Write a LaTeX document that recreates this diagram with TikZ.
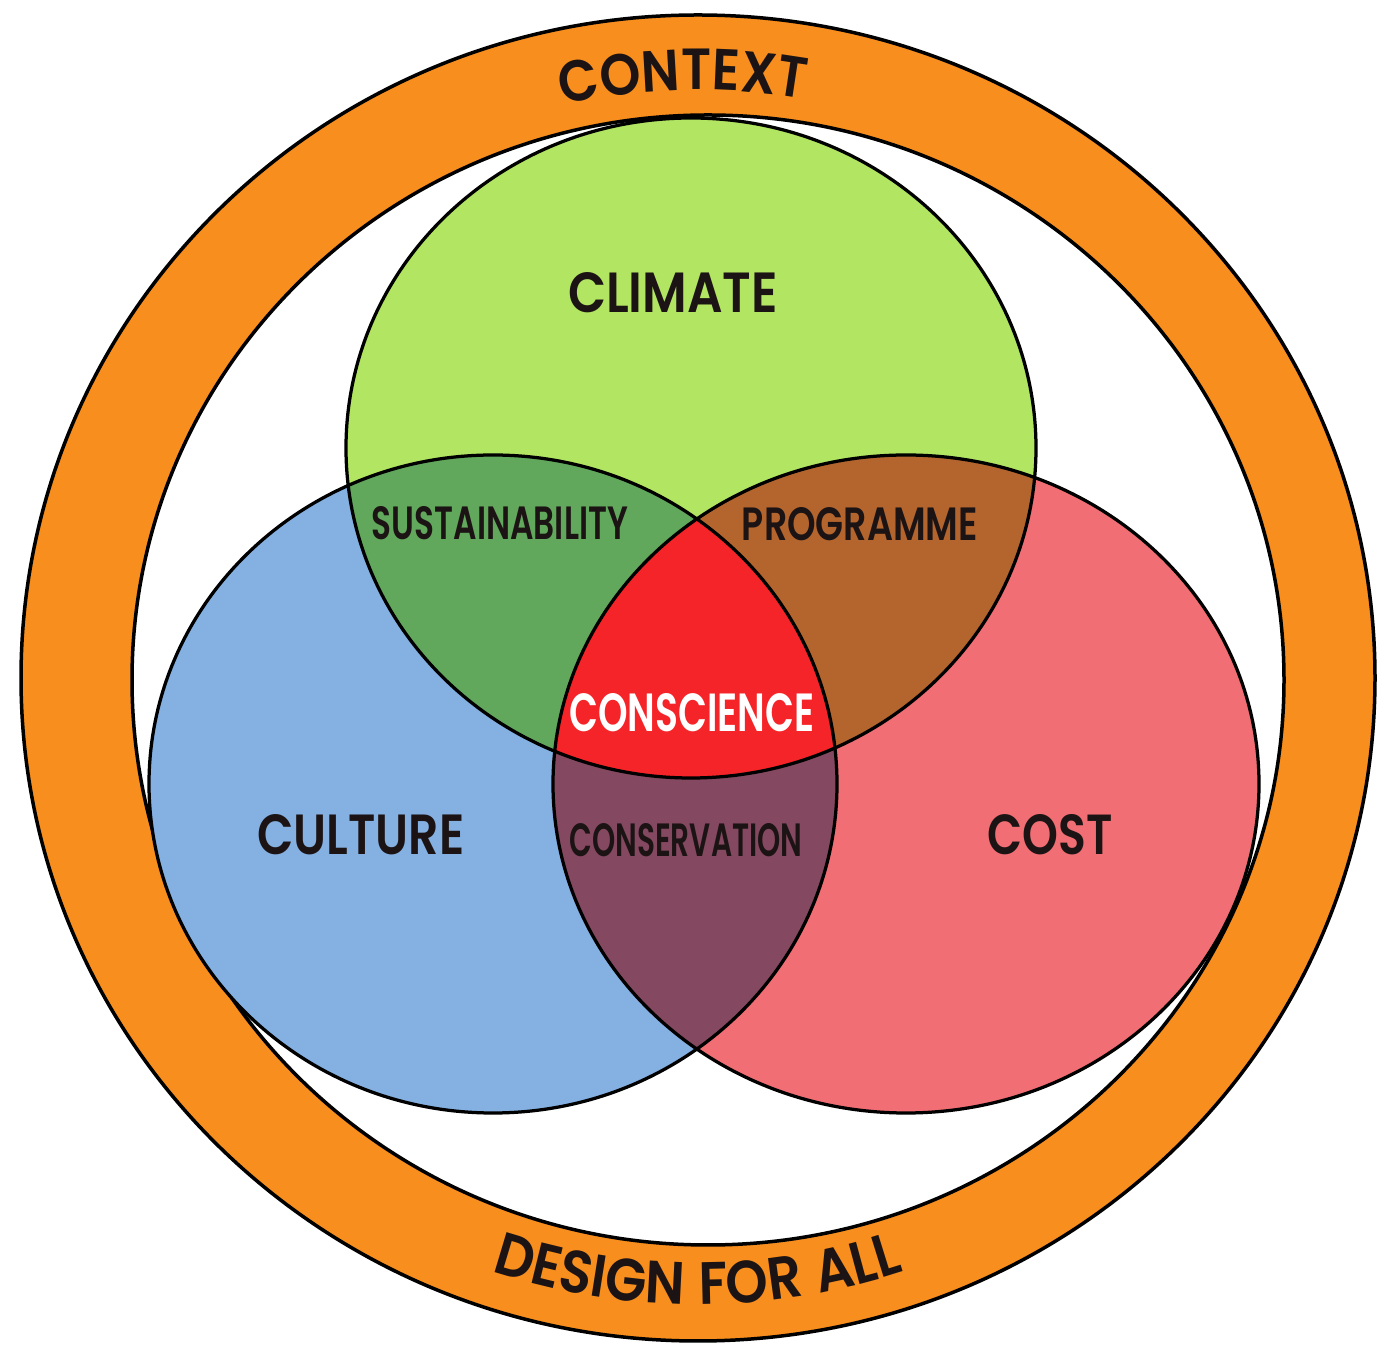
\documentclass[tikz,border=0pt]{standalone}
\usepackage{fontspec}
\setmainfont{Poppins}[BoldFont={* SemiBold}]
\newfontfamily\ringfont{Poppins}[BoldFont={* SemiBold}, FakeStretch=0.9, LetterSpace=4]
\usetikzlibrary{decorations.text}

\definecolor{ringorange}{RGB}{248,142,30}
\definecolor{climategreen}{RGB}{178,229,98}
\definecolor{cultureblue}{RGB}{132,176,226}
\definecolor{costpink}{RGB}{240,110,116}
\definecolor{sustgreen}{RGB}{98,168,92}
\definecolor{progbrown}{RGB}{180,101,46}
\definecolor{conscred}{RGB}{245,36,40}
\definecolor{conservplum}{RGB}{132,72,96}
\definecolor{inkdark}{RGB}{28,20,20}

% label stretched to the size it has in the picture
\newcommand{\fitlabel}[3]{\resizebox{#1}{#2}{\bfseries #3}}

\tikzset{
  outline/.style={draw=black, line width=0.65mm},
  ringline/.style={draw=black, line width=0.7mm},
  venntext/.style={text=inkdark, inner sep=0pt},
  climate path/.style={insert path={(691,897) ellipse [x radius=345, y radius=330]}},
  culture path/.style={insert path={(493,561) ellipse [x radius=344, y radius=329]}},
  cost path/.style={insert path={(906,561) ellipse [x radius=353, y radius=329]}},
}

\begin{document}
\begin{tikzpicture}[x=0.2mm, y=0.2mm]
	\useasboundingbox (0,0) rectangle (1381,1345);

	% context ring
	\fill[ringorange, even odd rule] (698,667) ellipse [x radius=677, y radius=663]
		(708,665) ellipse [x radius=576, y radius=565];
	\draw[ringline] (698,667) ellipse [x radius=677, y radius=663];
	\draw[ringline] (708,665) ellipse [x radius=576, y radius=565];

	% the three circles
	\fill[climategreen, climate path];
	\fill[cultureblue, culture path];
	\fill[costpink, cost path];

	% overlaps
	\begin{scope}
		\clip[climate path];
		\fill[sustgreen, culture path];
		\fill[progbrown, cost path];
	\end{scope}
	\begin{scope}
		\clip[culture path];
		\fill[conservplum, cost path];
	\end{scope}
	\begin{scope}
		\clip[climate path];
		\clip[culture path];
		\fill[conscred, cost path];
	\end{scope}

	\draw[outline, climate path];
	\draw[outline, culture path];
	\draw[outline, cost path];

	% labels
	\node[venntext] (climate) at (673,1052) {\fitlabel{42mm}{8mm}{CLIMATE}};
	\node[venntext] (culture) at (361,510) {\fitlabel{41.4mm}{8mm}{CULTURE}};
	\node[venntext] (cost) at (1050,510) {\fitlabel{25mm}{8mm}{COST}};
	\node[venntext] (sustainability) at (500,822) {\fitlabel{51.2mm}{6.6mm}{SUSTAINABILITY}};
	\node[venntext] (programme) at (860,821) {\fitlabel{47.2mm}{6.6mm}{PROGRAMME}};
	\node[venntext] (conservation) at (686,505) {\fitlabel{46.6mm}{6.6mm}{CONSERVATION}};
	\node[venntext, text=white] (conscience) at (692,632) {\fitlabel{49mm}{7.6mm}{CONSCIENCE}};

	% ring texts
	\path[decorate, decoration={text along path, text align=center,
		text={|\color{inkdark}\ringfont\bfseries\fontsize{33}{33}\selectfont|CONTEXT}}]
		(385.4,1169) arc [start angle=121.4, end angle=61.4, x radius=600, y radius=588];
	\path[decorate, decoration={text along path, text align=center,
		text={|\color{inkdark}\ringfont\bfseries\fontsize{34}{34}\selectfont|DESIGN FOR ALL}}]
		(378,124) arc [start angle=240, end angle=300, x radius=640, y radius=625];
\end{tikzpicture}
\end{document}
